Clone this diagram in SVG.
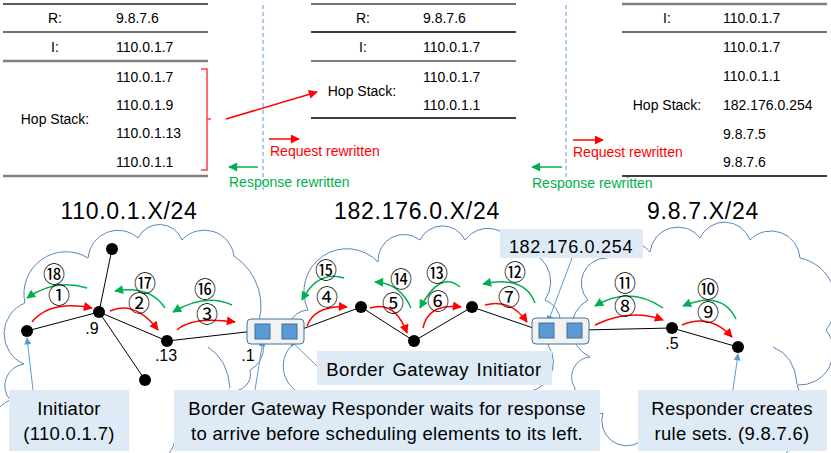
<svg xmlns="http://www.w3.org/2000/svg" width="831" height="453" viewBox="0 0 831 453">
<defs>
<style>
.t{font-family:"Liberation Sans",Arial,sans-serif;font-size:14px;fill:#000}
.c{text-anchor:middle}
.red{fill:#FF0000}
.grn{fill:#00B050}
.ttl{font-family:"Liberation Sans",Arial,sans-serif;font-size:23px;letter-spacing:0.7px;text-anchor:middle;fill:#000}
.lb{font-family:"Liberation Sans",Arial,sans-serif;font-size:18.5px;letter-spacing:0.3px;text-anchor:middle;fill:#000}
.sm{font-family:"Liberation Sans",Arial,sans-serif;font-size:16px;text-anchor:middle;fill:#000}
.num{font-family:"Noto Sans CJK JP","DejaVu Sans",sans-serif;font-size:22px;text-anchor:middle;fill:#000}
.cloud{fill:none;stroke:#5A86B8;stroke-width:1}
.link{stroke:#000;stroke-width:1;fill:none}
.ra{stroke:#FF0000;stroke-width:1.5;fill:none;marker-end:url(#mr)}
.ga{stroke:#00B050;stroke-width:1.5;fill:none;marker-end:url(#mg)}
.ptr{stroke:#5B9BD5;stroke-width:1;fill:none;marker-end:url(#mb)}
.box{fill:#DEEBF7}
.node{fill:#000}
.gw{fill:#F2F2F2;stroke:#41719C;stroke-width:1}
.sq{fill:#5B9BD5;stroke:#41719C;stroke-width:1}
.dash{stroke:#5B9BD5;stroke-width:1;stroke-dasharray:4 3}
</style>
<marker id="mr" viewBox="0 0 10 10" refX="9" refY="5" markerWidth="11" markerHeight="9" markerUnits="userSpaceOnUse" orient="auto"><path d="M0,0 L10,5 L0,10 z" fill="#FF0000"/></marker>
<marker id="mg" viewBox="0 0 10 10" refX="9" refY="5" markerWidth="11" markerHeight="9" markerUnits="userSpaceOnUse" orient="auto"><path d="M0,0 L10,5 L0,10 z" fill="#00B050"/></marker>
<marker id="mb" viewBox="0 0 10 10" refX="9" refY="5" markerWidth="8" markerHeight="7" markerUnits="userSpaceOnUse" orient="auto"><path d="M0,0 L10,5 L0,10 z" fill="#5B9BD5"/></marker>
</defs>
<rect width="831" height="453" fill="#fff"/>

<g id="table-left">
<line x1="3" y1="4" x2="208" y2="4" stroke="#262626" stroke-width="1.5"/>
<line x1="3" y1="32" x2="208" y2="32" stroke="#404040" stroke-width="1.5"/>
<line x1="3" y1="61" x2="208" y2="61" stroke="#808080" stroke-width="2.5"/>
<line x1="3" y1="176" x2="208" y2="176" stroke="#808080" stroke-width="2.5"/>
<text class="t c" x="55" y="23">R:</text><text class="t" x="116" y="23">9.8.7.6</text>
<text class="t c" x="55" y="52">I:</text><text class="t" x="116" y="52">110.0.1.7</text>
<text class="t c" x="55" y="124">Hop Stack:</text>
<text class="t" x="116" y="82">110.0.1.7</text>
<text class="t" x="116" y="110">110.0.1.9</text>
<text class="t" x="116" y="138">110.0.1.13</text>
<text class="t" x="116" y="167">110.0.1.1</text>
<path d="M201,69 H207 V170 H201 M207,119 H211" fill="none" stroke="#FF4040" stroke-width="1.5"/>
</g>
<g id="table-mid">
<line x1="311" y1="4" x2="516" y2="4" stroke="#404040" stroke-width="1.5"/>
<line x1="311" y1="32" x2="516" y2="32" stroke="#000" stroke-width="1.5"/>
<line x1="311" y1="61" x2="516" y2="61" stroke="#808080" stroke-width="2"/>
<line x1="311" y1="118" x2="516" y2="118" stroke="#404040" stroke-width="2"/>
<text class="t c" x="363" y="23">R:</text><text class="t" x="423" y="23">9.8.7.6</text>
<text class="t c" x="363" y="52">I:</text><text class="t" x="423" y="52">110.0.1.7</text>
<text class="t c" x="362" y="96">Hop Stack:</text>
<text class="t" x="423" y="82">110.0.1.7</text>
<text class="t" x="423" y="110">110.0.1.1</text>
</g>
<g id="table-right">
<line x1="622" y1="4" x2="827" y2="4" stroke="#808080" stroke-width="2.5"/>
<line x1="622" y1="32" x2="827" y2="32" stroke="#404040" stroke-width="1.5"/>
<line x1="622" y1="176" x2="827" y2="176" stroke="#000" stroke-width="1.5"/>
<text class="t c" x="667" y="23">I:</text><text class="t" x="723" y="23">110.0.1.7</text>
<text class="t c" x="667" y="110">Hop Stack:</text>
<text class="t" x="723" y="52">110.0.1.7</text>
<text class="t" x="723" y="81">110.0.1.1</text>
<text class="t" x="723" y="110">182.176.0.254</text>
<text class="t" x="723" y="139">9.8.7.5</text>
<text class="t" x="723" y="167">9.8.7.6</text>
</g>
<g id="rewrite-legend">
<line class="dash" x1="263" y1="5" x2="263" y2="190"/>
<line class="dash" x1="566" y1="5" x2="566" y2="180"/>
<line x1="269" y1="139" x2="299" y2="139" stroke="#FF0000" stroke-width="1.5" marker-end="url(#mr)"/>
<text class="t red" x="270" y="156">Request rewritten</text>
<line x1="258" y1="167" x2="229" y2="167" stroke="#00B050" stroke-width="1.5" marker-end="url(#mg)"/>
<text class="t grn" x="229" y="187">Response rewritten</text>
<line x1="573" y1="140" x2="603" y2="140" stroke="#FF0000" stroke-width="1.5" marker-end="url(#mr)"/>
<text class="t red" x="573" y="157">Request rewritten</text>
<line x1="562" y1="167" x2="532" y2="167" stroke="#00B050" stroke-width="1.5" marker-end="url(#mg)"/>
<text class="t grn" x="532" y="188">Response rewritten</text>
<line x1="226" y1="119" x2="317" y2="92" stroke="#FF0000" stroke-width="1.5" marker-end="url(#mr)"/>
</g>

<g id="clouds">
<path class="cloud" d="M6,470 A40,40 0 0 1 10,400 A22,22 0 0 1 24,364 A33,33 0 0 1 25,303 A42,42 0 0 1 88,258 A30,30 0 0 1 138,238 A24,24 0 0 1 182,240 A30,30 0 0 1 234,256 A60,60 0 0 1 256,330 A25,25 0 0 1 250,370 A17,17 0 0 1 228,390 A35,35 0 0 1 175,428 A30,30 0 0 1 130,460"/>
<path class="cloud" d="M208,347 Q228,360 230,388"/>
<path class="cloud" d="M305,395 A30,30 0 0 1 292,345 A22,22 0 0 1 308,310 A43,43 0 0 1 378,262 A26,26 0 0 1 420,240 A25,25 0 0 1 465,240 A28,28 0 0 1 515,250 A32,32 0 0 1 545,300 A25,25 0 0 1 548,345 A30,30 0 0 1 520,392"/>
<path class="cloud" d="M640,442 A25,25 0 0 1 603,413 A22,22 0 0 1 575,388 A20,20 0 0 1 590,357 A32,32 0 0 1 588,300 A25,25 0 0 1 607,258 A25,25 0 0 1 650,252 A28,28 0 0 1 700,238 A27,27 0 0 1 750,240 A29,29 0 0 1 800,258 A45,45 0 0 1 826,330 A34,34 0 0 1 797,385 A60,60 0 0 1 730,470"/>
<path class="cloud" d="M773,347 Q795,356 797,384"/>
</g>

<g id="titles">
<text class="ttl" x="129" y="219">110.0.1.X/24</text>
<text class="ttl" x="417" y="219">182.176.0.X/24</text>
<text class="ttl" x="703" y="219">9.8.7.X/24</text>
</g>

<g id="connectors">
<path class="link" d="M27,331 L99,312 L112,249 M99,312 L145,380 M99,312 L167,341 L255,331"/>
<path class="link" d="M297,331 L361,307 L414,341 L472,307 L539,330"/>
<path class="link" d="M582,330 L672,328 L738,347"/>
<path class="ra" d="M32,322 Q50,300 92,308"/>
<path class="ra" d="M110,311 Q135,300 158,330"/>
<path class="ra" d="M177,330 Q192,316 235,322"/>
<path class="ra" d="M307,326 Q315,305 347,307"/>
<path class="ra" d="M370,308 Q395,300 407,333"/>
<path class="ra" d="M423,328 Q428,303 461,307"/>
<path class="ra" d="M485,305 Q510,298 527,322"/>
<path class="ra" d="M595,325 Q630,308 663,320"/>
<path class="ra" d="M682,325 Q710,313 732,337"/>
<path class="ga" d="M87,288 Q55,278 27,298"/>
<path class="ga" d="M165,308 Q150,285 115,291"/>
<path class="ga" d="M232,305 Q205,293 173,312"/>
<path class="ga" d="M344,278 Q318,270 302,300"/>
<path class="ga" d="M411,308 Q400,283 375,282"/>
<path class="ga" d="M460,287 Q440,270 420,308"/>
<path class="ga" d="M535,303 Q525,275 483,284"/>
<path class="ga" d="M663,308 Q630,285 595,306"/>
<path class="ga" d="M736,319 Q722,290 683,306"/>
<line class="ptr" x1="33" y1="390" x2="27" y2="338"/>
<line class="ptr" x1="255" y1="390" x2="263" y2="340"/>
<line class="ptr" x1="317" y1="366" x2="290" y2="340"/>
<line class="ptr" x1="572" y1="258" x2="548" y2="322"/>
<line class="ptr" x1="733" y1="390" x2="738" y2="354"/>
</g>

<g id="step-numbers">
<text class="num" x="54" y="282">⑱</text>
<text class="num" x="59" y="303">①</text>
<text class="num" x="145" y="291">⑰</text>
<text class="num" x="139" y="311">②</text>
<text class="num" x="205" y="297">⑯</text>
<text class="num" x="207" y="322">③</text>
<text class="num" x="326" y="278">⑮</text>
<text class="num" x="327" y="305">④</text>
<text class="num" x="401" y="287">⑭</text>
<text class="num" x="393" y="311">⑤</text>
<text class="num" x="437" y="281">⑬</text>
<text class="num" x="438" y="309">⑥</text>
<text class="num" x="515" y="280">⑫</text>
<text class="num" x="509" y="305">⑦</text>
<text class="num" x="625" y="291">⑪</text>
<text class="num" x="625" y="314">⑧</text>
<text class="num" x="708" y="297">⑩</text>
<text class="num" x="708" y="320">⑨</text>
</g>

<g id="nodes">
<circle class="node" cx="27" cy="331" r="6"/>
<circle class="node" cx="99" cy="312" r="6"/>
<circle class="node" cx="112" cy="249" r="6"/>
<circle class="node" cx="145" cy="380" r="6"/>
<circle class="node" cx="167" cy="341" r="6"/>
<circle class="node" cx="361" cy="307" r="6"/>
<circle class="node" cx="414" cy="341" r="6"/>
<circle class="node" cx="472" cy="307" r="6"/>
<circle class="node" cx="672" cy="328" r="6"/>
<circle class="node" cx="738" cy="347" r="6"/>
<text class="sm" x="92" y="334">.9</text>
<text class="sm" x="166" y="361">.13</text>
<text class="sm" x="248" y="361">.1</text>
<text class="sm" x="672" y="349">.5</text>
</g>

<g id="gateway-1">
<rect class="gw" x="247" y="319" width="57" height="25" rx="4"/>
<rect class="sq" x="255" y="324" width="15" height="15"/>
<rect class="sq" x="282" y="324" width="15" height="15"/>
</g>
<g id="gateway-2">
<rect class="gw" x="532" y="318" width="57" height="26" rx="4"/>
<rect class="sq" x="539" y="323" width="15" height="15"/>
<rect class="sq" x="567" y="323" width="15" height="15"/>
</g>

<g id="label-254">
<rect class="box" x="500" y="229" width="143" height="29"/>
<text class="lb" x="571" y="253" style="font-size:18px;letter-spacing:0.7px">182.176.0.254</text>
</g>
<g id="label-bgi">
<rect class="box" x="317" y="351" width="235" height="34"/>
<text class="lb" x="434" y="376" style="word-spacing:2px;letter-spacing:0.5px">Border Gateway Initiator</text>
</g>
<g id="label-initiator">
<rect class="box" x="9" y="390" width="120" height="61"/>
<text class="lb" x="69" y="415">Initiator</text>
<text class="lb" x="69" y="440">(110.0.1.7)</text>
</g>
<g id="label-bgr">
<rect class="box" x="174" y="390" width="426" height="61"/>
<text class="lb" x="387" y="415">Border Gateway Responder waits for response</text>
<text class="lb" x="387" y="440">to arrive before scheduling elements to its left.</text>
</g>
<g id="label-responder">
<rect class="box" x="638" y="390" width="189" height="61"/>
<text class="lb" x="732" y="415">Responder creates</text>
<text class="lb" x="732" y="440">rule sets. (9.8.7.6)</text>
</g>
</svg>
